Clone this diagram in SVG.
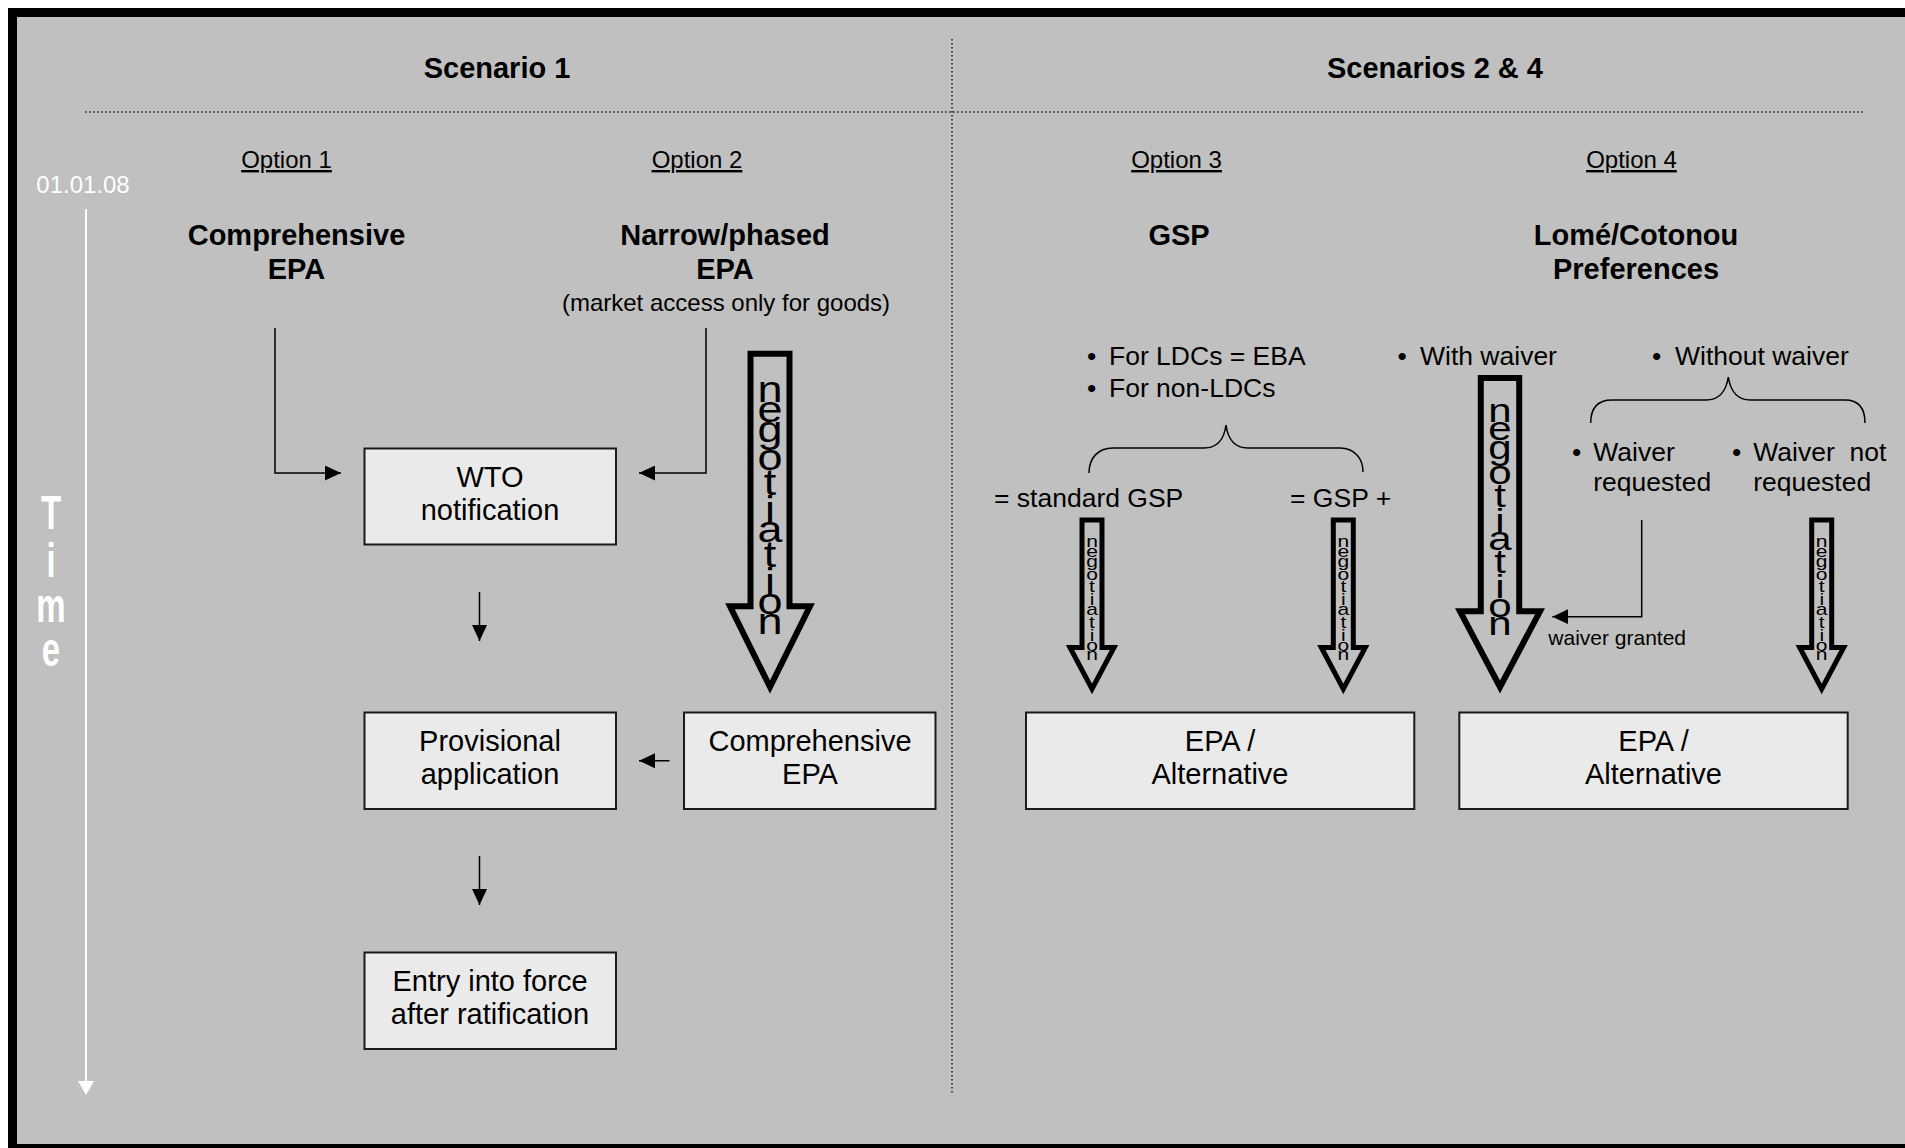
<svg xmlns="http://www.w3.org/2000/svg" width="1905" height="1148" viewBox="0 0 1905 1148">
<defs>
<style>
text{font-family:"Liberation Sans",Arial,sans-serif;fill:#000}
.ttl{font-size:29px;font-weight:bold;text-anchor:middle}
.opt{font-size:24px;text-anchor:middle;text-decoration:underline}
.box rect{fill:#eaeaea;stroke:#1a1a1a;stroke-width:2}
.box text{font-size:29px;text-anchor:middle}
.lbl{font-size:26.5px}
.neg{fill:#c0c0c0;stroke:#000;stroke-linejoin:miter;stroke-miterlimit:10}
.negt{text-anchor:middle}
.conn{fill:none;stroke:#000;stroke-width:1.5}
.dot{stroke:#222;stroke-width:1.5;stroke-dasharray:1.5 2.5;fill:none}
.brace{fill:none;stroke:#000;stroke-width:1.5}
.white{fill:#fff}
</style>
<marker id="ah" viewBox="0 0 16 15" refX="16" refY="7.5" markerWidth="16" markerHeight="15" markerUnits="userSpaceOnUse" orient="auto">
<path d="M0,0 L16,7.5 L0,15 Z" fill="#000"/>
</marker>
</defs>

<rect width="1905" height="1148" fill="#fff"/>
<rect x="8" y="8" width="1910" height="1150" fill="#000"/>
<rect x="17" y="17" width="1900" height="1127" fill="#c0c0c0"/>

<g id="dividers">
<line class="dot" x1="85" y1="112" x2="1863" y2="112"/>
<line class="dot" x1="952" y1="39" x2="952" y2="1095"/>
</g>

<g id="timeline">
<line x1="86" y1="209" x2="86" y2="1083" stroke="#fff" stroke-width="2"/>
<polygon points="78,1081 94,1081 86,1095" fill="#fff"/>
<text class="white" x="83" y="193" font-size="24" text-anchor="middle">01.01.08</text>
<text class="white" transform="translate(51,0) scale(1,1.45)" font-size="33" font-weight="bold" text-anchor="middle"><tspan x="0" y="364.5">T</tspan><tspan x="0" y="398">i</tspan><tspan x="0" y="429">m</tspan><tspan x="0" y="459.3">e</tspan></text>
</g>

<g id="scenario1-title"><text class="ttl" x="497" y="78">Scenario 1</text></g>
<g id="scenario24-title"><text class="ttl" x="1435" y="78">Scenarios 2 &amp; 4</text></g>

<g id="option1"><text class="opt" x="286.5" y="168">Option 1</text></g>
<g id="option2"><text class="opt" x="697" y="168">Option 2</text></g>
<g id="option3"><text class="opt" x="1176.5" y="168">Option 3</text></g>
<g id="option4"><text class="opt" x="1631.5" y="168">Option 4</text></g>

<g id="comprehensive-epa-title"><text class="ttl" x="296.5" y="245">Comprehensive<tspan x="296.5" y="279">EPA</tspan></text></g>
<g id="narrow-epa-title"><text class="ttl" x="725" y="245">Narrow/phased<tspan x="725" y="279">EPA</tspan></text>
<text x="726" y="311" font-size="24" text-anchor="middle">(market access only for goods)</text></g>
<g id="gsp-title"><text class="ttl" x="1179" y="245">GSP</text></g>
<g id="lome-title"><text class="ttl" x="1636" y="245">Lomé/Cotonou<tspan x="1636" y="279">Preferences</tspan></text></g>

<g id="gsp-bullets">
<text class="lbl" y="365"><tspan x="1087">•</tspan><tspan x="1109">For LDCs = EBA</tspan></text>
<text class="lbl" y="397"><tspan x="1087">•</tspan><tspan x="1109">For non-LDCs</tspan></text>
<path class="brace" d="M1089,473 C1089,458 1098,448 1113,448 L1204,448 C1217,448 1224,440 1226,425 C1228,440 1235,448 1248,448 L1340,448 C1354,448 1363,458 1363,472"/>
<text class="lbl" x="994" y="507">= standard GSP</text>
<text class="lbl" x="1290" y="507">= GSP +</text>
</g>

<g id="lome-bullets">
<text class="lbl" y="365"><tspan x="1397.5">•</tspan><tspan x="1420">With waiver</tspan></text>
<text class="lbl" y="365"><tspan x="1652">•</tspan><tspan x="1675">Without waiver</tspan></text>
<path class="brace" d="M1590.7,423 C1590.7,408 1598,400 1612,400 L1706,400 C1718,400 1726,392 1728.3,377 C1730.6,392 1738.6,400 1750.6,400 L1845,400 C1858,400 1865,408 1865,423"/>
<text class="lbl" y="461"><tspan x="1572">•</tspan><tspan x="1593.3">Waiver</tspan><tspan x="1593.3" y="491">requested</tspan></text>
<text class="lbl" y="461" xml:space="preserve"><tspan x="1732">•</tspan><tspan x="1753.3">Waiver  not</tspan><tspan x="1753.3" y="491">requested</tspan></text>
<text x="1548.3" y="645" font-size="21">waiver granted</text>
</g>

<g id="neg-arrow-option2">
<path class="neg" stroke-width="6" d="M750.5,353.7 H789.5 V606.3 H810 L770,687 L730,606.3 H750.5 Z"/>
<text class="negt" font-size="45" transform="translate(770,0) scale(1,0.82)"><tspan x="0" y="490.24">n</tspan><tspan x="0" y="514.76">e</tspan><tspan x="0" y="539.27">g</tspan><tspan x="0" y="573.29">o</tspan><tspan x="0" y="603.66">t</tspan><tspan x="0" y="636.46">i</tspan><tspan x="0" y="660.98">a</tspan><tspan x="0" y="691.34">t</tspan><tspan x="0" y="724.15">i</tspan><tspan x="0" y="748.66">o</tspan><tspan x="0" y="773.17">n</tspan></text>
</g>

<g id="neg-arrow-waiver">
<path class="neg" stroke-width="6" d="M1480.8,378 H1519.2 V611.3 H1540 L1500,687 L1460,611.3 H1480.8 Z"/>
<text class="negt" font-size="42" transform="translate(1500,0) scale(1,0.78)"><tspan x="0" y="540.64">n</tspan><tspan x="0" y="564.49">e</tspan><tspan x="0" y="588.33">g</tspan><tspan x="0" y="621.03">o</tspan><tspan x="0" y="650.26">t</tspan><tspan x="0" y="681.92">i</tspan><tspan x="0" y="705.77">a</tspan><tspan x="0" y="735">t</tspan><tspan x="0" y="766.67">i</tspan><tspan x="0" y="790.51">o</tspan><tspan x="0" y="814.36">n</tspan></text>
</g>

<g id="neg-arrow-standard-gsp">
<path class="neg" stroke-width="5" d="M1082,520 H1102 V647.5 H1114 L1092,689 L1070,647.5 H1082 Z"/>
<text class="negt" font-size="21" transform="translate(1092,0) scale(1,0.82)"><tspan x="0" y="667.07">n</tspan><tspan x="0" y="679.12">e</tspan><tspan x="0" y="691.17">g</tspan><tspan x="0" y="707.61">o</tspan><tspan x="0" y="722.46">t</tspan><tspan x="0" y="738.41">i</tspan><tspan x="0" y="750.46">a</tspan><tspan x="0" y="765.32">t</tspan><tspan x="0" y="781.27">i</tspan><tspan x="0" y="793.32">o</tspan><tspan x="0" y="805.37">n</tspan></text>
</g>

<g id="neg-arrow-gsp-plus">
<path class="neg" stroke-width="5" d="M1333.3,520 H1353.3 V647.5 H1365.3 L1343.3,689 L1321.3,647.5 H1333.3 Z"/>
<text class="negt" font-size="21" transform="translate(1343.3,0) scale(1,0.82)"><tspan x="0" y="667.07">n</tspan><tspan x="0" y="679.12">e</tspan><tspan x="0" y="691.17">g</tspan><tspan x="0" y="707.61">o</tspan><tspan x="0" y="722.46">t</tspan><tspan x="0" y="738.41">i</tspan><tspan x="0" y="750.46">a</tspan><tspan x="0" y="765.32">t</tspan><tspan x="0" y="781.27">i</tspan><tspan x="0" y="793.32">o</tspan><tspan x="0" y="805.37">n</tspan></text>
</g>

<g id="neg-arrow-not-requested">
<path class="neg" stroke-width="5" d="M1811.7,520 H1831.7 V647.5 H1843.7 L1821.7,689 L1799.7,647.5 H1811.7 Z"/>
<text class="negt" font-size="21" transform="translate(1821.7,0) scale(1,0.82)"><tspan x="0" y="667.07">n</tspan><tspan x="0" y="679.12">e</tspan><tspan x="0" y="691.17">g</tspan><tspan x="0" y="707.61">o</tspan><tspan x="0" y="722.46">t</tspan><tspan x="0" y="738.41">i</tspan><tspan x="0" y="750.46">a</tspan><tspan x="0" y="765.32">t</tspan><tspan x="0" y="781.27">i</tspan><tspan x="0" y="793.32">o</tspan><tspan x="0" y="805.37">n</tspan></text>
</g>

<g id="wto-notification" class="box">
<rect x="364.5" y="448.5" width="251.5" height="96"/>
<text x="490" y="487">WTO</text>
<text x="490" y="520">notification</text>
</g>
<g id="provisional-application" class="box">
<rect x="364.5" y="712.5" width="251.5" height="96.5"/>
<text x="490" y="751">Provisional</text>
<text x="490" y="784">application</text>
</g>
<g id="entry-into-force" class="box">
<rect x="364.5" y="952.5" width="251.5" height="96.5"/>
<text x="490" y="991">Entry into force</text>
<text x="490" y="1024">after ratification</text>
</g>
<g id="comprehensive-epa-box" class="box">
<rect x="684" y="712.5" width="251.5" height="96.5"/>
<text x="810" y="751">Comprehensive</text>
<text x="810" y="784">EPA</text>
</g>
<g id="epa-alternative-gsp" class="box">
<rect x="1026" y="712.5" width="388.3" height="96.5"/>
<text x="1220" y="751">EPA /</text>
<text x="1220" y="784">Alternative</text>
</g>
<g id="epa-alternative-lome" class="box">
<rect x="1459.3" y="712.5" width="388.4" height="96.5"/>
<text x="1653.5" y="751">EPA /</text>
<text x="1653.5" y="784">Alternative</text>
</g>

<g id="connectors">
<path class="conn" marker-end="url(#ah)" d="M275,328 V473 H341"/>
<path class="conn" marker-end="url(#ah)" d="M706,328 V473 H639"/>
<path class="conn" marker-end="url(#ah)" d="M479.5,592 V641"/>
<path class="conn" marker-end="url(#ah)" d="M479.5,856 V905"/>
<path class="conn" marker-end="url(#ah)" d="M669.5,760.75 H639"/>
<path class="conn" marker-end="url(#ah)" d="M1641.7,520 V616.7 H1552.3"/>
</g>
</svg>
